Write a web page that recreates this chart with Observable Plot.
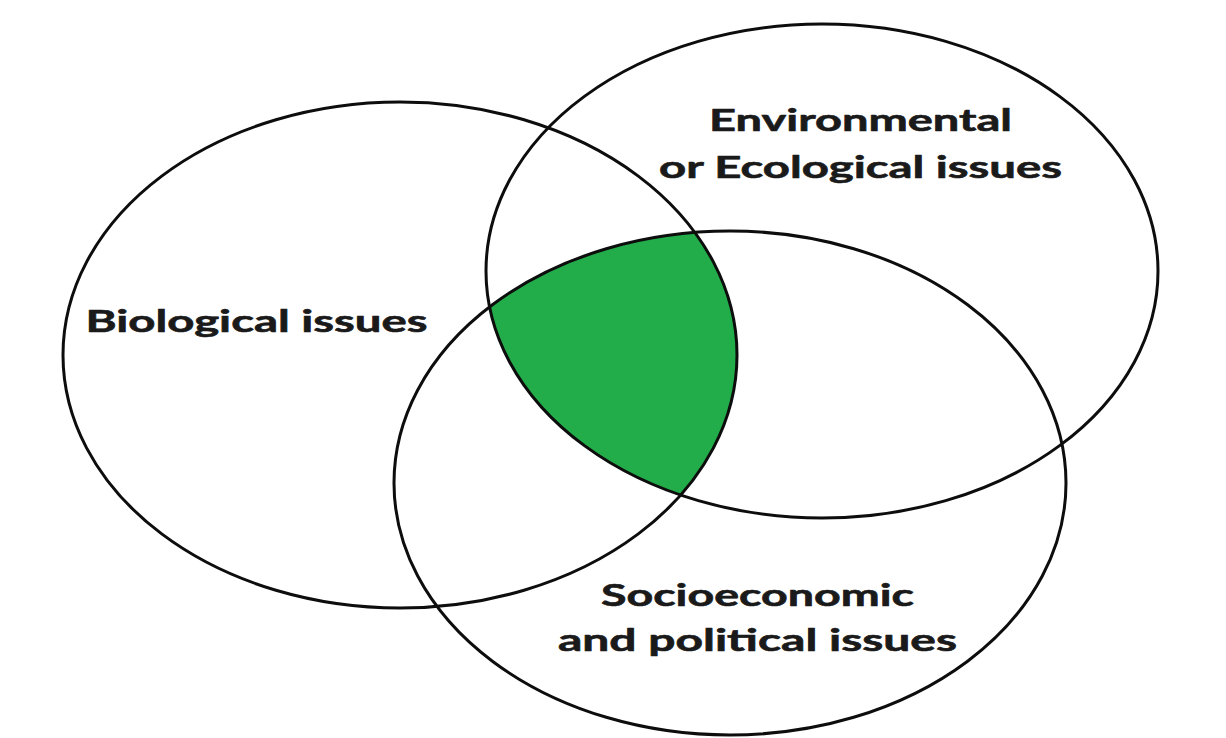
<!DOCTYPE html>
<html>
<head>
<meta charset="utf-8">
<script src="https://cdn.jsdelivr.net/npm/d3@7"></script>
<script src="https://cdn.jsdelivr.net/npm/@observablehq/plot@0.6"></script>
<style>
  html, body { margin: 0; padding: 0; background: #ffffff; }
  #chart svg { display: block; }
</style>
</head>
<body>
<div id="chart"></div>
<script>
// ---- Data: the three sets of the Venn diagram (centre and radii, in chart units) ----
const setNames = ["Biological issues", "Environmental or Ecological issues", "Socioeconomic and political issues"];
const setCx = [400, 822, 730];
const setCy = [355, 271, 483];
const setRx = [337, 336, 336];
const setRy = [253, 247, 252];

// ---- Label text (one entry per printed line) ----
const labelLines = ["Biological issues", "Environmental", "or Ecological issues", "Socioeconomic", "and political issues"];
const labelSet = [0, 1, 1, 2, 2];

// ---- Layout (kept apart from the data) ----
const layout = {
  width: 1226,
  height: 738,
  labelX: [256, 860, 860, 757, 757],
  labelBaseline: [331, 130, 177, 605, 650],
  labelWidth: [342, 303, 403, 313, 399],
  stroke: "#0d0d0d",
  strokeWidth: 3,
  fill: "#22ad4a",
  textColor: "#1a1a1a"
};

const sets = setNames.map((name, i) => ({name, cx: setCx[i], cy: setCy[i], rx: setRx[i], ry: setRy[i]}));
const labels = labelLines.map((text, i) => ({
  text, set: setNames[labelSet[i]], x: layout.labelX[i], y: layout.labelBaseline[i]
}));

const NS = "http://www.w3.org/2000/svg";

// Custom mark: draws the ellipses through Plot's own x / y scales,
// and fills the region common to all three sets (via nested clip paths).
function vennMark(index, scales) {
  const {x, y} = scales;
  const geom = sets.map(s => ({
    cx: x(s.cx),
    cy: y(s.cy),
    rx: Math.abs(x(s.cx + s.rx) - x(s.cx)),
    ry: Math.abs(y(s.cy + s.ry) - y(s.cy))
  }));
  const g = document.createElementNS(NS, "g");
  const defs = document.createElementNS(NS, "defs");
  g.appendChild(defs);
  const mk = (tag, attrs) => {
    const el = document.createElementNS(NS, tag);
    for (const k in attrs) el.setAttribute(k, attrs[k]);
    return el;
  };
  geom.forEach((e, i) => {
    const cp = mk("clipPath", {id: "venn-clip-" + i});
    cp.appendChild(mk("ellipse", {cx: e.cx, cy: e.cy, rx: e.rx, ry: e.ry}));
    defs.appendChild(cp);
  });
  // intersection of all three sets
  const outer = mk("g", {"clip-path": "url(#venn-clip-1)"});
  const inner = mk("g", {"clip-path": "url(#venn-clip-2)"});
  inner.appendChild(mk("ellipse", {cx: geom[0].cx, cy: geom[0].cy, rx: geom[0].rx, ry: geom[0].ry, fill: layout.fill}));
  outer.appendChild(inner);
  g.appendChild(outer);
  // outlines
  geom.forEach(e => {
    g.appendChild(mk("ellipse", {
      cx: e.cx, cy: e.cy, rx: e.rx, ry: e.ry,
      fill: "none", stroke: layout.stroke, "stroke-width": layout.strokeWidth
    }));
  });
  return g;
}

const chart = Plot.plot({
  width: layout.width,
  height: layout.height,
  margin: 0,
  x: {domain: [0, layout.width], range: [0, layout.width], axis: null},
  y: {domain: [0, layout.height], range: [0, layout.height], axis: null},
  style: {background: "#ffffff"},
  marks: [
    vennMark,
    Plot.text(labels, {
      x: "x",
      y: "y",
      text: "text",
      textAnchor: "middle",
      lineAnchor: "bottom",
      fontSize: 30,
      fontWeight: 700,
      fontFamily: "Lato, 'Open Sans', sans-serif",
      fill: layout.textColor,
      stroke: layout.textColor,
      strokeWidth: 0.6
    })
  ]
});

document.getElementById("chart").appendChild(chart);

// match each printed line to the width it has in the reference
const texts = chart.querySelectorAll("g[aria-label='text'] text");
texts.forEach((t, i) => {
  if (layout.labelWidth[i] != null) {
    t.setAttribute("textLength", layout.labelWidth[i]);
    t.setAttribute("lengthAdjust", "spacingAndGlyphs");
  }
});
</script>
</body>
</html>
